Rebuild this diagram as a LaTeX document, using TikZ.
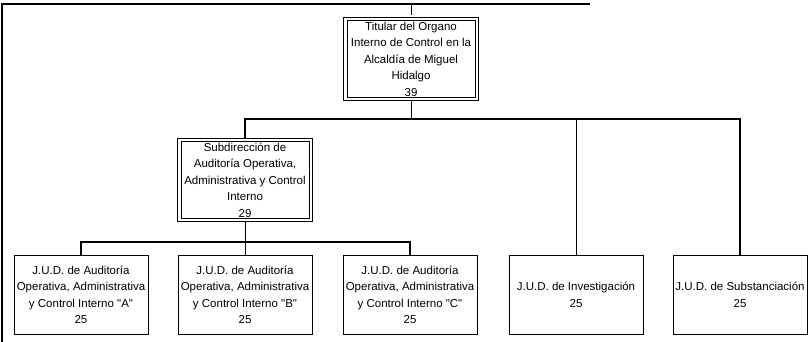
\documentclass[tikz,border=0pt]{standalone}
\usepackage{fontspec}
\setmainfont{Liberation Sans}[Ligatures=TeXOff]
\usepackage{tikz}
\usetikzlibrary{positioning, calc}

\tikzset{
  unit/.style={draw, line width=0.6pt, align=center, minimum width=134pt, minimum height=79pt,
    inner sep=1pt, font=\fontsize{11.5}{16.5}\selectfont},
  head/.style={unit, minimum width=128pt},
  link/.style={line width=0.7pt},
  bus/.style={line width=1.3pt}
}
\newcommand{\qq}[1]{"#1"}

\begin{document}
\begin{tikzpicture}[x=1pt,y=-1pt]
    \useasboundingbox (0,0) rectangle (808,342);

    % Frame
    \coordinate (frameL) at (2,342);
    \coordinate (frameT) at (2,4);
    \coordinate (frameR) at (590,4);
    \draw[bus] (frameL) -- (frameT) -- (frameR);

    % Heads
    \node[head, minimum height=76pt] (titular) at (411,59)
      {Titular del Organo\\Interno de Control en la\\Alcaldía de Miguel\\Hidalgo\\39};
    \node[head, minimum height=72pt] (subdir) at (245,180)
      {Subdirección de\\Auditoría Operativa,\\Administrativa y Control\\Interno\\29};
    \foreach \n in {titular,subdir}
      \draw[line width=0.6pt] ($(\n.south west)+(-3,3)$) rectangle ($(\n.north east)+(3,-3)$);

    % Units
    \def\ytop{295}
    \node[unit] (judA) at (81,\ytop)
      {J.U.D. de Auditoría\\Operativa, Administrativa\\y Control Interno \qq{A}\\25};
    \node[unit] (judB) at (245,\ytop)
      {J.U.D. de Auditoría\\Operativa, Administrativa\\y Control Interno \qq{B}\\25};
    \node[unit] (judC) at (410,\ytop)
      {J.U.D. de Auditoría\\Operativa, Administrativa\\y Control Interno \qq{C}\\25};
    \node[unit] (invest) at (576,\ytop) {J.U.D. de Investigación\\25};
    \node[unit] (subst) at (740,\ytop) {J.U.D. de Substanciación\\25};

    % Lines
    \coordinate (busA) at (titular.south |- 0,119);
    \coordinate (busB) at (subdir.south |- 0,242);
    \draw[link] (titular.north |- frameT) -- ++(0,11);
    \draw[link] (titular.south) ++(0,3) -- (busA);
    \draw[bus] (subdir.north) ++(0,-3) |- (busA) -| (subst.north);
    \draw[link] (busA -| invest.north) -- (invest.north);
    \draw[link] (subdir.south) ++(0,3) -- (busB);
    \draw[bus] (judA.north) |- (busB) -| (judC.north);
    \draw[link] (busB) -- (judB.north);
\end{tikzpicture}
\end{document}
